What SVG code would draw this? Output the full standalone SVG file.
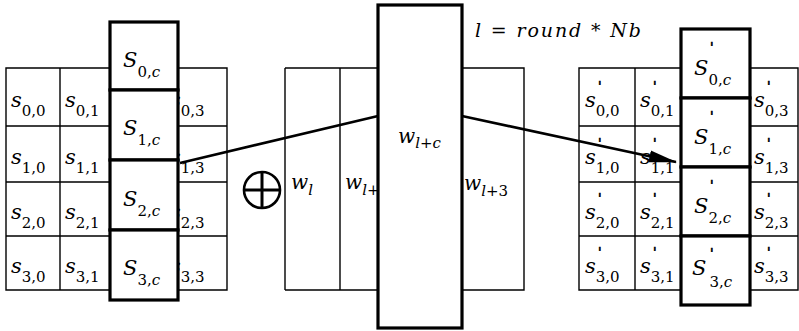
<svg xmlns="http://www.w3.org/2000/svg" width="799" height="331" viewBox="0 0 799 331">
<style>
  .thin{fill:none;stroke:#000;stroke-width:1.4}
  .thick{fill:#fff;stroke:#000;stroke-width:3.2}
  .v{font-style:italic;font-size:21px}
  .V{font-style:italic;font-size:21px}
  .w{font-style:italic;font-size:20px}
  .sub{font-size:15px}
  .subi{font-size:15px;font-style:italic}
  .pr{font-size:13px;stroke:#000;stroke-width:0.7}
  .conn{fill:none;stroke:#000;stroke-width:2.6;stroke-linejoin:round}
</style>
<defs>
  <marker id="ah" markerUnits="userSpaceOnUse" markerWidth="28" markerHeight="14" viewBox="0 0 28 14" refX="27" refY="7" orient="auto">
    <path d="M0,1 L28,7 L0,13 z" fill="#000"/>
  </marker>
</defs>
<rect width="799" height="331" fill="#fff"/>

<g id="left-state" font-family="DejaVu Serif, serif">
  <path class="thin" d="M6,68 H227 V290 H6 Z M60,68 V290 M110,68 V290 M178,68 V290 M6,126 H227 M6,182 H227 M6,236 H227"/>
  <text x="11" y="107"><tspan class="v">s</tspan><tspan class="sub" dy="9">0,0</tspan></text>
  <text x="65" y="107"><tspan class="v">s</tspan><tspan class="sub" dy="9">0,1</tspan></text>
  <text x="170" y="107"><tspan class="v">s</tspan><tspan class="sub" dy="9">0,3</tspan></text>
  <text x="11" y="164"><tspan class="v">s</tspan><tspan class="sub" dy="9">1,0</tspan></text>
  <text x="65" y="164"><tspan class="v">s</tspan><tspan class="sub" dy="9">1,1</tspan></text>
  <text x="170" y="164"><tspan class="v">s</tspan><tspan class="sub" dy="9">1,3</tspan></text>
  <text x="11" y="219"><tspan class="v">s</tspan><tspan class="sub" dy="9">2,0</tspan></text>
  <text x="65" y="219"><tspan class="v">s</tspan><tspan class="sub" dy="9">2,1</tspan></text>
  <text x="170" y="219"><tspan class="v">s</tspan><tspan class="sub" dy="9">2,3</tspan></text>
  <text x="11" y="273"><tspan class="v">s</tspan><tspan class="sub" dy="9">3,0</tspan></text>
  <text x="65" y="273"><tspan class="v">s</tspan><tspan class="sub" dy="9">3,1</tspan></text>
  <text x="170" y="273"><tspan class="v">s</tspan><tspan class="sub" dy="9">3,3</tspan></text>
</g>

<g id="xor">
  <circle cx="262" cy="190" r="18" fill="none" stroke="#000" stroke-width="2.6"/>
  <path d="M244,190 H280 M262,172 V208" stroke="#000" stroke-width="3" fill="none"/>
</g>

<g id="round-key" font-family="DejaVu Serif, serif">
  <path class="thin" d="M285,68 H378 M285,290 H378 M285,68 V290 M340,68 V290 M462,68 H524 V290 H462"/>
  <text x="291" y="189"><tspan class="w">w</tspan><tspan class="subi" dy="6">l</tspan></text>
  <text x="345" y="189"><tspan class="w">w</tspan><tspan class="subi" dy="6">l</tspan><tspan class="sub">+</tspan></text>
  <text x="464" y="190"><tspan class="w">w</tspan><tspan class="subi" dy="6">l</tspan><tspan class="sub">+3</tspan></text>
</g>

<g id="connectors">
  <path class="conn" d="M180,163 L378,116 L462,116 L676,162" marker-end="url(#ah)"/>
</g>

<g id="key-word" font-family="DejaVu Serif, serif">
  <rect class="thick" x="378" y="5" width="84" height="323"/>
  <text x="398" y="143"><tspan class="w">w</tspan><tspan class="subi" dy="5">l</tspan><tspan class="sub">+</tspan><tspan class="subi">c</tspan></text>
</g>

<g id="left-column" font-family="DejaVu Serif, serif">
  <rect class="thick" x="110" y="22" width="68" height="68"/>
  <rect class="thick" x="110" y="90" width="68" height="70"/>
  <rect class="thick" x="110" y="160" width="68" height="70"/>
  <rect class="thick" x="110" y="230" width="68" height="70"/>
  <text x="123" y="67"><tspan class="V">S</tspan><tspan class="sub" dy="10">0,</tspan><tspan class="subi">c</tspan></text>
  <text x="123" y="135"><tspan class="V">S</tspan><tspan class="sub" dy="10">1,</tspan><tspan class="subi">c</tspan></text>
  <text x="123" y="206"><tspan class="V">S</tspan><tspan class="sub" dy="10">2,</tspan><tspan class="subi">c</tspan></text>
  <text x="123" y="275"><tspan class="V">S</tspan><tspan class="sub" dy="10">3,</tspan><tspan class="subi">c</tspan></text>
</g>

<g id="formula" font-family="DejaVu Serif, serif">
  <text x="475" y="37" font-style="italic" font-size="19" textLength="166" lengthAdjust="spacing">l = round * Nb</text>
</g>

<g id="right-state" font-family="DejaVu Serif, serif">
  <path class="thin" d="M579,68 H798 V290 H579 Z M635,68 V290 M681,68 V290 M750,68 V290 M579,126 H798 M579,182 H798 M579,236 H798"/>
  <text x="585" y="107"><tspan class="v">s</tspan><tspan class="sub" dy="9">0,0</tspan></text>
  <text x="640" y="107"><tspan class="v">s</tspan><tspan class="sub" dy="9">0,1</tspan></text>
  <text x="754" y="107"><tspan class="v">s</tspan><tspan class="sub" dy="9">0,3</tspan></text>
  <text x="585" y="164"><tspan class="v">s</tspan><tspan class="sub" dy="9">1,0</tspan></text>
  <text x="640" y="164"><tspan class="v">s</tspan><tspan class="sub" dy="9">1,1</tspan></text>
  <text x="754" y="164"><tspan class="v">s</tspan><tspan class="sub" dy="9">1,3</tspan></text>
  <text x="585" y="219"><tspan class="v">s</tspan><tspan class="sub" dy="9">2,0</tspan></text>
  <text x="640" y="219"><tspan class="v">s</tspan><tspan class="sub" dy="9">2,1</tspan></text>
  <text x="754" y="219"><tspan class="v">s</tspan><tspan class="sub" dy="9">2,3</tspan></text>
  <text x="585" y="273"><tspan class="v">s</tspan><tspan class="sub" dy="9">3,0</tspan></text>
  <text x="640" y="273"><tspan class="v">s</tspan><tspan class="sub" dy="9">3,1</tspan></text>
  <text x="754" y="273"><tspan class="v">s</tspan><tspan class="sub" dy="9">3,3</tspan></text>
  <g class="pr">
    <text x="598" y="91">'</text><text x="653" y="91">'</text><text x="767" y="91">'</text>
    <text x="598" y="148">'</text><text x="653" y="148">'</text><text x="767" y="148">'</text>
    <text x="598" y="203">'</text><text x="653" y="203">'</text><text x="767" y="203">'</text>
    <text x="598" y="257">'</text><text x="653" y="257">'</text><text x="767" y="257">'</text>
  </g>
</g>

<g id="right-column" font-family="DejaVu Serif, serif">
  <rect class="thick" x="681" y="29" width="69" height="69"/>
  <rect class="thick" x="681" y="98" width="69" height="69"/>
  <rect class="thick" x="681" y="167" width="69" height="69"/>
  <rect class="thick" x="681" y="236" width="69" height="69"/>
  <text x="694" y="75"><tspan class="V">S</tspan><tspan class="sub" dy="10">0,</tspan><tspan class="subi">c</tspan></text>
  <text x="694" y="144"><tspan class="V">S</tspan><tspan class="sub" dy="10">1,</tspan><tspan class="subi">c</tspan></text>
  <text x="694" y="213"><tspan class="V">S</tspan><tspan class="sub" dy="10">2,</tspan><tspan class="subi">c</tspan></text>
  <text x="692" y="275"><tspan class="V">S</tspan><tspan class="sub" dx="3" dy="12">3,</tspan><tspan class="subi">c</tspan></text>
  <g class="pr">
    <text x="710" y="52">'</text>
    <text x="710" y="121">'</text>
    <text x="710" y="190">'</text>
    <text x="710" y="258">'</text>
  </g>
</g>
</svg>
